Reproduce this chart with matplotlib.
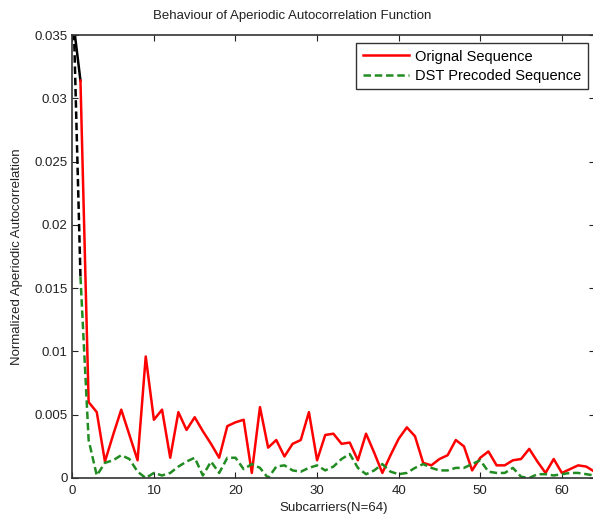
import numpy as np
import matplotlib
matplotlib.use("Agg")
import matplotlib.pyplot as plt

plt.rcParams['font.family'] = ['Liberation Sans', 'DejaVu Sans']

# subcarrier index 0..64
subcarriers = np.arange(0, 65)

# values
orig_seq = [0.0367, 0.0314, 0.0060, 0.0052, 0.0013, 0.0034, 0.0054, 0.0034, 0.0014, 0.0096,
            0.0046, 0.0054, 0.0016, 0.0052, 0.0038, 0.0048, 0.0037, 0.0027, 0.0016, 0.0041,
            0.0044, 0.0046, 0.0004, 0.0056, 0.0024, 0.0030, 0.0017, 0.0027, 0.0030, 0.0052,
            0.0014, 0.0034, 0.0035, 0.0027, 0.0028, 0.0014, 0.0035, 0.0020, 0.0004, 0.0018,
            0.0031, 0.0040, 0.0033, 0.0012, 0.0010, 0.0015, 0.0018, 0.0030, 0.0025, 0.0006,
            0.0016, 0.0021, 0.0010, 0.0010, 0.0014, 0.0015, 0.0023, 0.0013, 0.0004, 0.0015,
            0.0004, 0.0007, 0.0010, 0.0009, 0.0005]

dst_seq = [0.0404, 0.0159, 0.0030, 0.0002, 0.0012, 0.0014, 0.0018, 0.0015, 0.0005, 0.0000,
           0.0004, 0.0002, 0.0004, 0.0009, 0.0013, 0.0016, 0.0002, 0.0013, 0.0004, 0.0016,
           0.0016, 0.0007, 0.0011, 0.0008, 0.0000, 0.0009, 0.0010, 0.0006, 0.0005, 0.0008,
           0.0010, 0.0006, 0.0009, 0.0015, 0.0019, 0.0008, 0.0003, 0.0006, 0.0011, 0.0005,
           0.0003, 0.0004, 0.0008, 0.0011, 0.0008, 0.0006, 0.0006, 0.0008, 0.0008, 0.0011,
           0.0014, 0.0005, 0.0004, 0.0004, 0.0008, 0.0001, 0.0000, 0.0003, 0.0003, 0.0002,
           0.0003, 0.0004, 0.0004, 0.0003, 0.0002]

x_ticks = [0, 10, 20, 30, 40, 50, 60]
y_ticks = [0, 0.005, 0.01, 0.015, 0.02, 0.025, 0.03, 0.035]
y_tick_labels = ['0', '0.005', '0.01', '0.015', '0.02', '0.025', '0.03', '0.035']

green = (0.13, 0.55, 0.13)
dash = (3, 1.5)

fig = plt.figure(figsize=(5.93, 5.18), dpi=100)
ax = fig.add_axes([72.3 / 593, 40 / 518, (594.5 - 72.3) / 593, (478 - 35) / 518])

# first segment (lag 0 -> 1) is drawn black in the original
ax.plot(subcarriers[:2], orig_seq[:2], color='black', lw=1.8)
ax.plot(subcarriers[:2], dst_seq[:2], color='black', lw=1.8, dashes=dash)
ax.plot(subcarriers[1:], orig_seq[1:], color='red', lw=1.8, label='Orignal Sequence')
ax.plot(subcarriers[1:], dst_seq[1:], color=green, lw=1.8, dashes=dash,
        label='DST Precoded Sequence')

ax.set_xlim(0, 64)
ax.set_ylim(0, 0.035)
ax.set_xticks(x_ticks)
ax.set_yticks(y_ticks)
ax.set_yticklabels(y_tick_labels)
ax.tick_params(direction='in', length=4, top=True, right=True, labelsize=9.5,
               colors='#222222', width=0.8)
ax.tick_params(axis='x', pad=5)
for s in ax.spines.values():
    s.set_color('#333333')
    s.set_linewidth(1.2)

ax.set_xlabel('Subcarriers(N=64)', fontsize=9.5, color='#222222', labelpad=4)
ax.set_ylabel('Normalized Aperiodic Autocorrelation', fontsize=9.5, color='#222222', labelpad=8)
fig.text(292 / 593, 1 - 16 / 518, 'Behaviour of Aperiodic Autocorrelation Function',
         ha='center', va='center', fontsize=9.5, color='#222222')

leg = ax.legend(loc='upper right', bbox_to_anchor=(1 - 6.5 / 522, 1 - 8 / 443),
                fontsize=10.5, frameon=True, fancybox=False, framealpha=1,
                edgecolor='#333333', handlelength=3.2, handletextpad=0.4,
                borderpad=0.45, labelspacing=0.35, borderaxespad=0)
leg.get_frame().set_linewidth(1.0)

fig.savefig('out.png', dpi=100)
